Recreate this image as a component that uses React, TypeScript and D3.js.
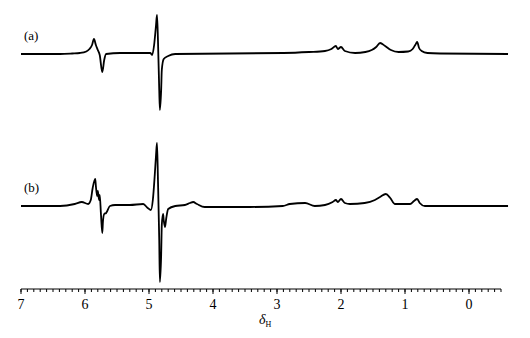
import React, { useEffect, useRef } from 'react';
import * as d3 from 'd3';

// chemical shift (ppm) and intensity (arbitrary units, baseline = 0)
const ppmA = [7.0, 6.39, 6.2, 6.08, 5.98, 5.93, 5.89, 5.86, 5.83, 5.8, 5.77, 5.73, 5.7, 5.67, 5.45, 4.98, 4.95, 4.92, 4.89, 4.875, 4.86, 4.84, 4.83, 4.81, 4.8, 4.77, 4.7, 4.59, 2.9, 2.5, 2.25, 2.15, 2.08, 2.05, 2.0, 1.94, 1.78, 1.62, 1.52, 1.45, 1.39, 1.31, 1.22, 1.1, 0.95, 0.88, 0.84, 0.81, 0.78, 0.74, 0.65, 0.45, -0.61];
const intA = [0, 0, 0.5, 1, 2.5, 5, 9, 15, 9, 4, -1, -18, -6, 0, 1, 1, -1, 9, 29, 39, 14, -36, -56, -36, -16, -5, -2, 0, 1, 2, 3, 5, 8, 5, 7, 3, 1, 2, 4, 7, 11, 8, 4, 2, 2.5, 5, 9, 12, 6, 3, 1, 0.5, 0];

const ppmB = [7.0, 6.39, 6.16, 6.05, 5.95, 5.91, 5.88, 5.84, 5.83, 5.81, 5.8, 5.78, 5.77, 5.75, 5.73, 5.72, 5.7, 5.67, 5.61, 5.53, 5.3, 5.09, 5.02, 4.97, 4.94, 4.91, 4.89, 4.875, 4.86, 4.84, 4.83, 4.81, 4.8, 4.78, 4.77, 4.75, 4.73, 4.7, 4.59, 4.44, 4.36, 4.31, 4.25, 4.13, 3.42, 2.91, 2.8, 2.56, 2.41, 2.25, 2.13, 2.08, 2.05, 2.0, 1.94, 1.86, 1.63, 1.47, 1.39, 1.3, 1.23, 1.16, 0.92, 0.86, 0.81, 0.77, 0.69, -0.61];
const intB = [0, 0, 2, 4, 2, 6, 18, 27, 20, 10, 15, 6, 11, -9, -27, -16, -8, -7, 0, 1, 1, 2, -2, -4, 6, 31, 51, 63, 26, -34, -76, -49, -19, -8, -14, -21, -12, -3, 0, 1, 3, 4, 2, -1, -1, 0, 2, 3, 0, 1, 4, 6, 4, 7, 3, 2, 3, 6, 9, 12, 8, 2, 2, 5, 7, 3, 0, 0];

const traceLabels = ['(a)', '(b)'];
const axisTicks = [7, 6, 5, 4, 3, 2, 1, 0];

const serif = 'Liberation Serif';

export default function App() {
  const svgRef = useRef<SVGSVGElement>(null);

  useEffect(() => {
    const svg = d3.select(svgRef.current);
    svg.selectAll('*').remove();

    const x = d3.scaleLinear().domain([7, -0.5]).range([21, 501]);
    const y = d3.scaleLinear().domain([0, 100]).range([0, -100]);

    const traces = [
      { label: traceLabels[0], pts: ppmA.map((p, i) => [p, intA[i]]), base: 54, ly: 40 },
      { label: traceLabels[1], pts: ppmB.map((p, i) => [p, intB[i]]), base: 206, ly: 192 },
    ];

    const line = d3.line<number[]>().x(d => x(d[0])).y(d => y(d[1])).curve(d3.curveMonotoneX);

    traces.forEach(t => {
      const g = svg.append('g').attr('transform', `translate(0,${t.base})`);
      g.append('path').datum(t.pts).attr('d', line)
        .attr('fill', 'none').attr('stroke', '#000').attr('stroke-width', 1.8)
        .attr('stroke-linejoin', 'round');
      svg.append('text').attr('x', 24).attr('y', t.ly).text(t.label)
        .style('font-family', serif).style('font-size', '13px');
    });

    // axis: major every 1 ppm, minor every 0.1
    const ax = svg.append('g').attr('transform', 'translate(0,289)');
    ax.append('line').attr('x1', x(7)).attr('x2', x(-0.5)).attr('stroke', '#000').attr('stroke-width', 1);
    const minor = d3.range(70, -6, -1).map(v => v / 10);
    ax.selectAll('.minor').data(minor).enter().append('line')
      .attr('x1', d => x(d)).attr('x2', d => x(d)).attr('y1', 0).attr('y2', 3)
      .attr('stroke', '#000').attr('stroke-width', 1);
    ax.selectAll('.major').data(axisTicks).enter().append('line')
      .attr('x1', d => x(d)).attr('x2', d => x(d)).attr('y1', 0).attr('y2', 5)
      .attr('stroke', '#000').attr('stroke-width', 1);
    ax.selectAll('.lbl').data(axisTicks).enter().append('text')
      .attr('x', d => x(d)).attr('y', 20).attr('text-anchor', 'middle').text(d => d)
      .style('font-family', serif).style('font-size', '14px');

    const title = svg.append('text').attr('x', 259).attr('y', 324)
      .style('font-family', serif).style('font-size', '14px');
    title.append('tspan').text('δ').style('font-style', 'italic');
    title.append('tspan').text('H').attr('dy', 3).style('font-size', '8px');
  }, []);

  return (
    <svg ref={svgRef} width={530} height={338}
      style={{ position: 'absolute', left: 0, top: 0, background: '#fff' }} />
  );
}
